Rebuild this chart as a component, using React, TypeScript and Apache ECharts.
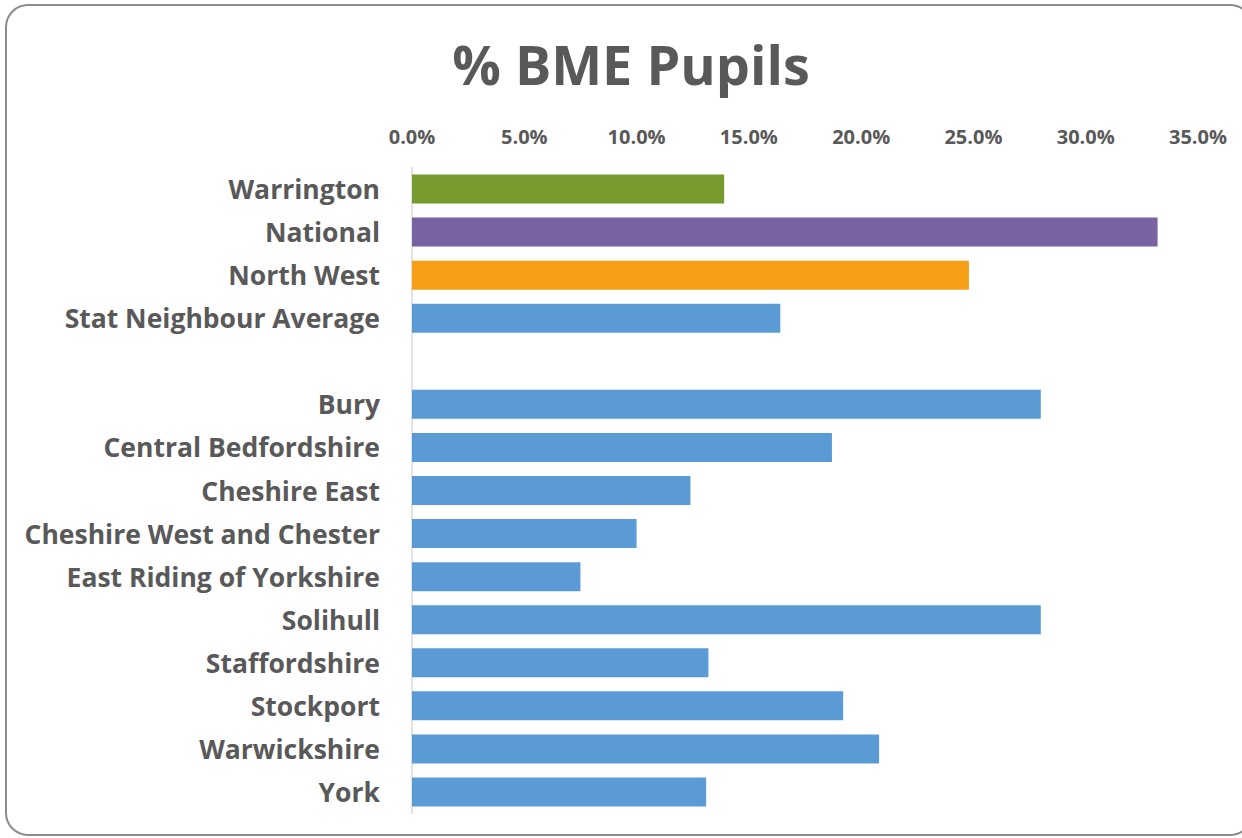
import React, { useEffect, useRef } from "react";
import * as echarts from "echarts";

const categories = [
  "Warrington",
  "National",
  "North West",
  "Stat Neighbour Average",
  "",
  "Bury",
  "Central Bedfordshire",
  "Cheshire East",
  "Cheshire West and Chester",
  "East Riding of Yorkshire",
  "Solihull",
  "Staffordshire",
  "Stockport",
  "Warwickshire",
  "York",
];

const values: (number | null)[] = [
  13.9, 33.2, 24.8, 16.4, null, 28.0, 18.7, 12.4, 10.0, 7.5, 28.0, 13.2, 19.2, 20.8, 13.1,
];

const barColors = [
  "#779A2F",
  "#7962A1",
  "#F59E16",
  "#5B9BD5",
  "#5B9BD5",
  "#5B9BD5",
  "#5B9BD5",
  "#5B9BD5",
  "#5B9BD5",
  "#5B9BD5",
  "#5B9BD5",
  "#5B9BD5",
  "#5B9BD5",
  "#5B9BD5",
  "#5B9BD5",
];

const xTicks = { min: 0, max: 35, interval: 5 };

const FONT = "'Open Sans', 'Liberation Sans', sans-serif";
const TEXT = "#595959";

export default function App() {
  const ref = useRef<HTMLDivElement>(null);

  useEffect(() => {
    if (!ref.current) return;
    const chart = echarts.init(ref.current, null, { renderer: "svg" });
    chart.setOption({
      animation: false,
      backgroundColor: "#ffffff",
      graphic: [
        {
          type: "rect",
          shape: { x: 6, y: 5, width: 1246, height: 830, r: 22 },
          style: { fill: "none", stroke: "#8c8c8c", lineWidth: 2 },
          silent: true,
        },
        {
          type: "text",
          x: 631,
          y: 64,
          style: {
            text: "% BME Pupils",
            font: `bold 54px ${FONT}`,
            fill: TEXT,
            textAlign: "center",
            textVerticalAlign: "middle",
          },
        },
      ],
      grid: { left: 412, right: 44, top: 167.5, bottom: 838 - 813.5, containLabel: false },
      xAxis: {
        type: "value",
        position: "top",
        min: xTicks.min,
        max: xTicks.max,
        interval: xTicks.interval,
        axisLine: { show: false },
        axisTick: { show: false },
        splitLine: { show: false },
        axisLabel: {
          margin: 21,
          color: TEXT,
          fontFamily: FONT,
          fontWeight: "bold",
          fontSize: 20,
          formatter: (v: number) => v.toFixed(1) + "%",
        },
      },
      yAxis: {
        type: "category",
        inverse: true,
        data: categories,
        axisLine: { show: true, lineStyle: { color: "#d9d9d9", width: 1.5 } },
        axisTick: { show: false },
        axisLabel: {
          margin: 32,
          color: TEXT,
          fontFamily: FONT,
          fontWeight: "bold",
          fontSize: 26.5,
        },
      },
      series: [
        {
          type: "bar",
          barWidth: 29,
          data: values.map((v, i) => ({
            value: v,
            itemStyle: { color: barColors[i] },
          })),
        },
      ],
    });
    return () => chart.dispose();
  }, []);

  return (
    <div
      ref={ref}
      style={{ position: "fixed", left: 0, top: 0, width: 1242, height: 838 }}
    />
  );
}
